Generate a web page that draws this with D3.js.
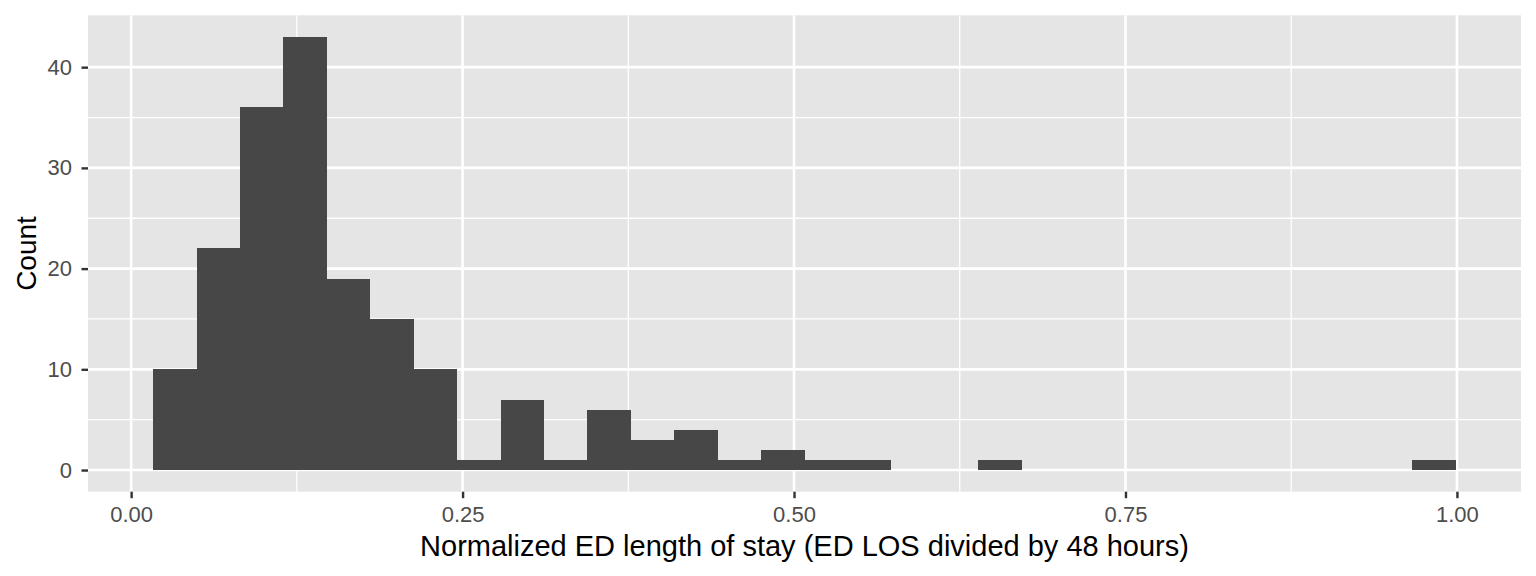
<!DOCTYPE html>
<html><head><meta charset="utf-8">
<script src="https://cdn.jsdelivr.net/npm/d3@7"></script>
<style>body{margin:0;background:#fff}text{font-family:"Liberation Sans",Arial,Helvetica,sans-serif}</style>
</head><body>
<svg id="c" width="1536" height="576"></svg>
<script>
// Histogram data (30 equal bins between binMin and binMax)
const binMin = 0.0166;
const binMax = 0.9992;
const counts = [10,22,36,43,19,15,10,1,7,1,6,3,4,1,2,1,1,0,0,1,0,0,0,0,0,0,0,0,0,1];
const xTicks = [0, 0.25, 0.5, 0.75, 1.0];
const xTickLabels = ["0.00","0.25","0.50","0.75","1.00"];
const xMinor = [0.125, 0.375, 0.625, 0.875];
const yTicks = [0, 10, 20, 30, 40];
const yMinor = [5, 15, 25, 35];
const xTitle = "Normalized ED length of stay (ED LOS divided by 48 hours)";
const yTitle = "Count";

const nb = counts.length;
const bw = (binMax - binMin) / nb;
const bins = counts.map((c, i) => ({x0: binMin + i * bw, x1: binMin + (i + 1) * bw, n: c}));

const svg = d3.select("#c");
const L = 88, R = 1521, T = 15.3, B = 491.7;
const xr = binMax - binMin, ymax = d3.max(counts);
const x = d3.scaleLinear().domain([binMin - 0.05 * xr, binMax + 0.05 * xr]).range([L, R]);
const y = d3.scaleLinear().domain([-0.05 * ymax, ymax * 1.05]).range([B, T]);

svg.append("rect").attr("x", L).attr("y", T).attr("width", R - L).attr("height", B - T).attr("fill", "#E5E5E5");

const g = svg.append("g");
g.selectAll(".xm").data(xMinor).join("line").attr("x1", d => x(d)).attr("x2", d => x(d)).attr("y1", T).attr("y2", B).attr("stroke", "#fff").attr("stroke-width", 1.3);
g.selectAll(".ym").data(yMinor).join("line").attr("y1", d => y(d)).attr("y2", d => y(d)).attr("x1", L).attr("x2", R).attr("stroke", "#fff").attr("stroke-width", 1.3);
g.selectAll(".xM").data(xTicks).join("line").attr("x1", d => x(d)).attr("x2", d => x(d)).attr("y1", T).attr("y2", B).attr("stroke", "#fff").attr("stroke-width", 2.6);
g.selectAll(".yM").data(yTicks).join("line").attr("y1", d => y(d)).attr("y2", d => y(d)).attr("x1", L).attr("x2", R).attr("stroke", "#fff").attr("stroke-width", 2.6);

svg.append("g").attr("shape-rendering", "crispEdges").selectAll("rect").data(bins.filter(b => b.n > 0)).join("rect")
  .attr("x", d => x(d.x0)).attr("width", d => x(d.x1) - x(d.x0))
  .attr("y", d => y(d.n)).attr("height", d => y(0) - y(d.n))
  .attr("fill", "#474747");

const xa = svg.append("g").attr("transform", `translate(0,${B})`)
  .call(d3.axisBottom(x).tickValues(xTicks).tickFormat((d, i) => xTickLabels[i]).tickSize(6.5).tickPadding(8.5));
const ya = svg.append("g").attr("transform", `translate(${L},0)`)
  .call(d3.axisLeft(y).tickValues(yTicks).tickSize(6.5).tickPadding(9.5));
[xa, ya].forEach(a => {
  a.select(".domain").remove();
  a.selectAll(".tick line").attr("stroke", "#333").attr("stroke-width", 2.4);
  a.selectAll(".tick text").attr("fill", "#4D4D4D").style("font-size", "22px").style("font-family", "Liberation Sans, Arial, sans-serif");
});

svg.append("text").attr("x", (L + R) / 2).attr("y", 555.7).attr("text-anchor", "middle")
  .style("font-size", "29px").attr("fill", "#000").text(xTitle);
svg.append("text").attr("transform", `translate(35.5,${(T + B) / 2}) rotate(-90)`).attr("text-anchor", "middle")
  .style("font-size", "28px").attr("fill", "#000").text(yTitle);
</script>
</body></html>
